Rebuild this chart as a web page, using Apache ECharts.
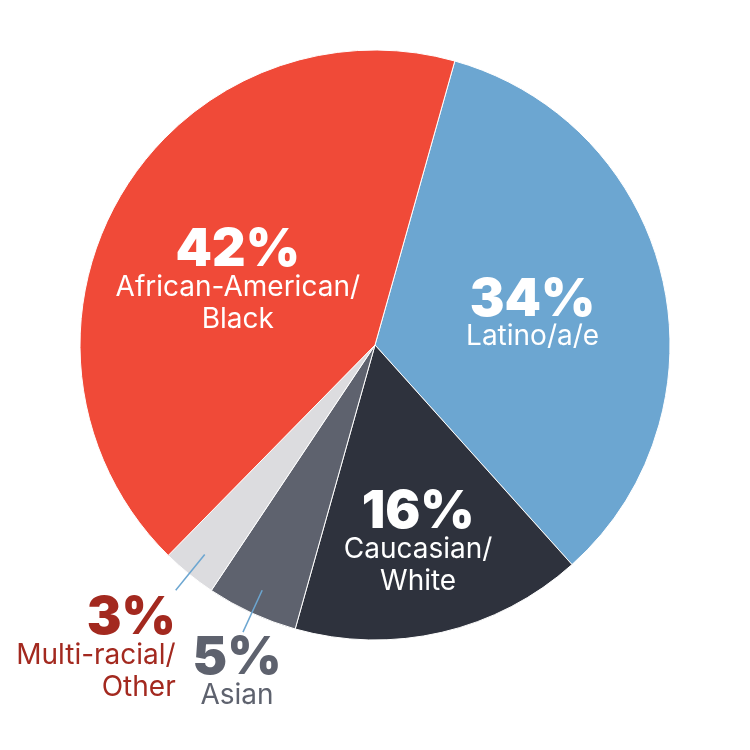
<!DOCTYPE html>
<html>
<head>
<meta charset="utf-8">
<script src="https://cdn.jsdelivr.net/npm/echarts@6/dist/echarts.min.js"></script>
<style>html,body{margin:0;padding:0;background:#fff}#c{width:750px;height:750px}</style>
</head>
<body>
<div id="c"></div>
<script>
// Data (clockwise from the top)
const categories = ['Latino/a/e', 'Caucasian/White', 'Asian', 'Multi-racial/Other', 'African-American/Black'];
const labelLinesText = [['Latino/a/e'], ['Caucasian/', 'White'], ['Asian'], ['Multi-racial/', 'Other'], ['African-American/', 'Black']];
const values = [34, 16, 5, 3, 42];

// Styling
const colors = ['#6ca6d1', '#2e323d', '#5e626e', '#dcdcdf', '#f04a38'];
const labelColors = ['#ffffff', '#ffffff', '#5e626e', '#a3291f', '#ffffff'];
const outside = [false, false, true, true, false];
const labelShift = [[11, 5], [9, 53], [-6, 5], [0, 7], [-7, 13]];
const labelAlign = ['center', 'center', 'center', 'right', 'center'];

const rich = {
  pct: {fontFamily: 'Inter', fontWeight: 900, fontSize: 52, lineHeight: 42},
  txt: {fontFamily: 'Inter', fontWeight: 400, fontSize: 28, lineHeight: 32}
};
function fmt(p) {
  const lines = labelLinesText[p.dataIndex].map(t => '{txt|' + t + '}');
  return '{pct|' + p.value + '%}\n' + lines.join('\n');
}

const chart = echarts.init(document.getElementById('c'), null, {renderer: 'canvas'});

// main pie with inside labels
const mainData = categories.map((name, i) => ({
  name: name,
  value: values[i],
  itemStyle: {color: colors[i]},
  label: {show: !outside[i], color: labelColors[i], align: labelAlign[i]}
}));
// overlay (transparent) pie that carries the leader lines and outside labels
const overlayData = categories.map((name, i) => ({
  name: name,
  value: values[i],
  itemStyle: {color: 'rgba(0,0,0,0)'},
  label: {show: outside[i], color: labelColors[i], align: labelAlign[i]},
  labelLine: {show: outside[i]}
}));

chart.setOption({
  backgroundColor: '#ffffff',
  animation: false,
  series: [{
    type: 'pie',
    z: 2,
    center: [375, 345],
    radius: [0, 295],
    startAngle: 74.3,
    clockwise: true,
    avoidLabelOverlap: false,
    silent: true,
    itemStyle: {borderColor: '#ffffff', borderWidth: 1},
    data: mainData,
    label: {position: 'inside', formatter: fmt, rich: rich},
    labelLine: {show: false},
    labelLayout: function (params) {
      const s = labelShift[params.dataIndex];
      return {dx: s[0], dy: s[1]};
    }
  }, {
    type: 'pie',
    z: 3,
    center: [375, 345],
    radius: [0, 270],
    startAngle: 74.3,
    clockwise: true,
    avoidLabelOverlap: false,
    silent: true,
    itemStyle: {borderWidth: 0},
    data: overlayData,
    label: {position: 'outside', formatter: fmt, rich: rich},
    labelLine: {
      show: false,
      length: 46,
      length2: 0,
      smooth: false,
      lineStyle: {color: '#6ca6d1', width: 1.5}
    },
    labelLayout: function (params) {
      const i = params.dataIndex;
      const s = labelShift[i];
      const pts = params.labelLinePoints;
      if (!pts || pts.length < 2) return {};
      const p1 = pts[1];
      return {
        labelLinePoints: pts,
        x: p1[0] + s[0],
        y: p1[1] + s[1],
        align: labelAlign[i],
        verticalAlign: 'top'
      };
    }
  }]
});
</script>
</body>
</html>
